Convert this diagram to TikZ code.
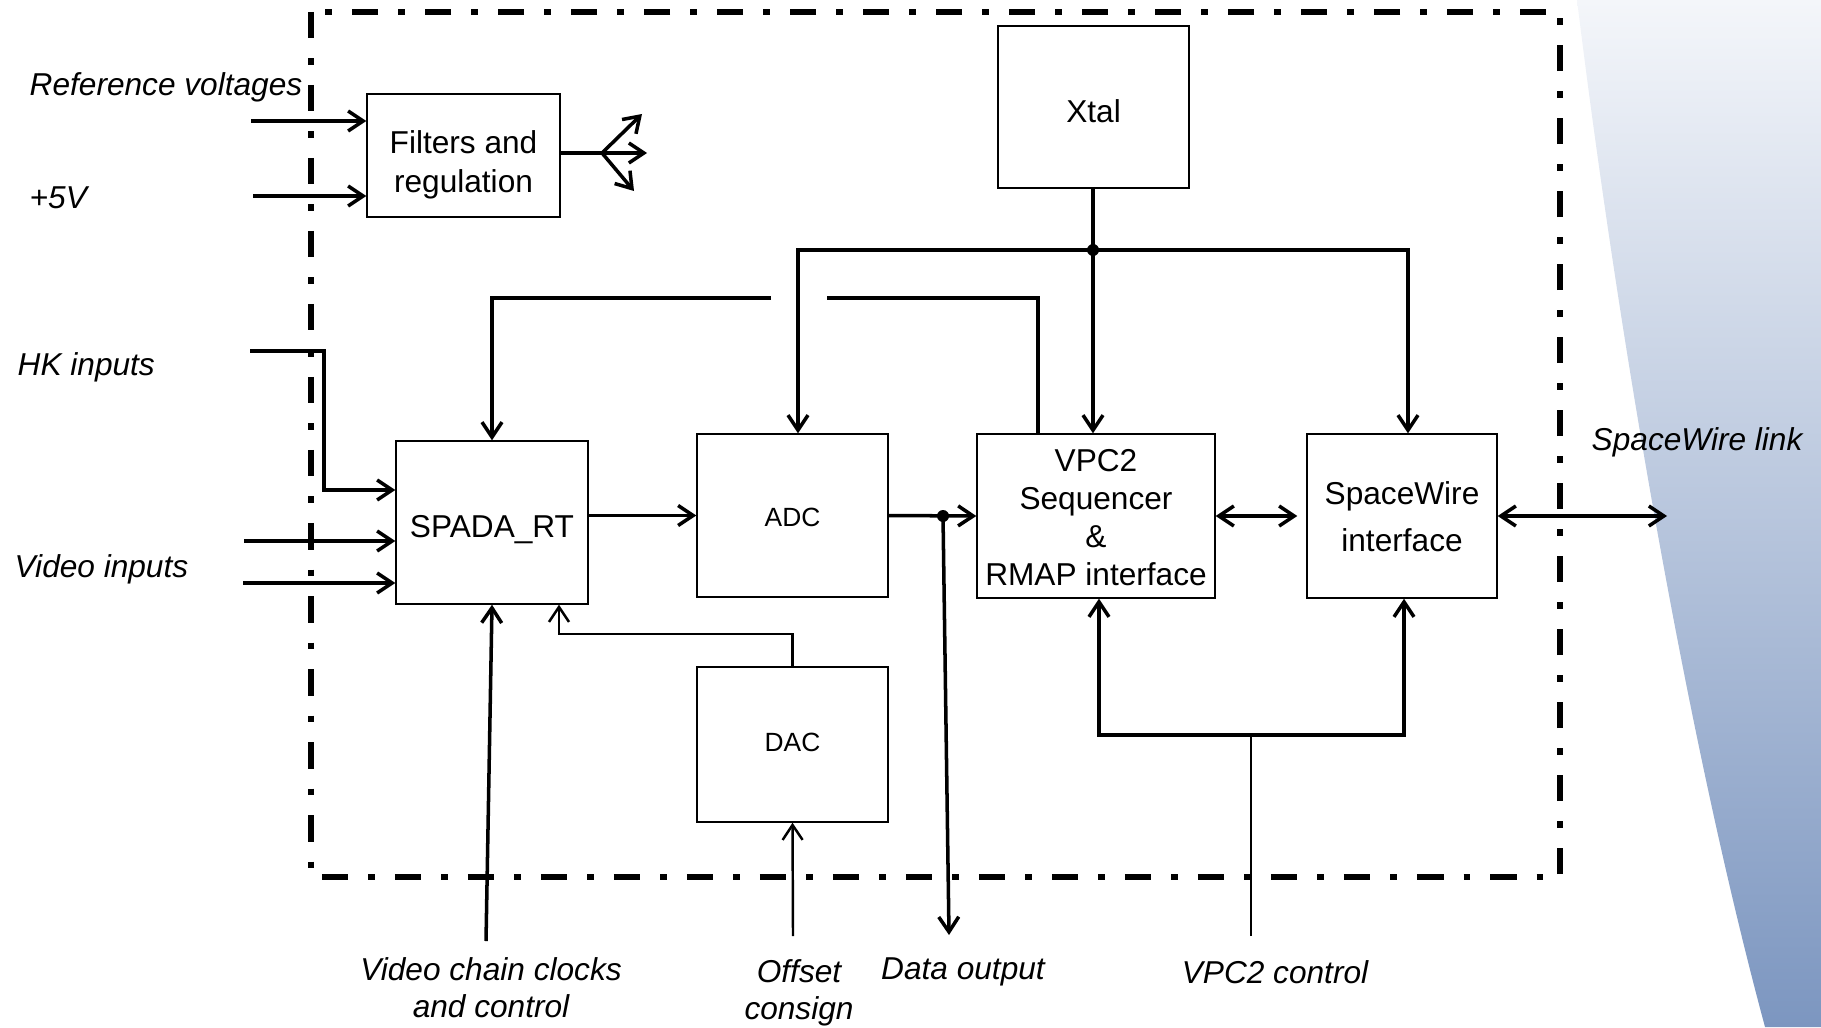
\documentclass[tikz,border=0pt]{standalone}
\usepackage{fontspec}
\setmainfont{Liberation Sans}
\usepackage{tikz}
\usetikzlibrary{arrows.meta}
\definecolor{bltop}{RGB}{244,246,250}
\definecolor{blbot}{RGB}{124,150,192}

\begin{document}
\begin{tikzpicture}[x=0.1mm, y=-0.1mm,
        blk/.style={draw, line width=0.4pt, inner sep=0pt, align=center, font=\fontsize{9}{11}\selectfont},
        lnk/.style={line width=1pt, -{Straight Barb[length=1.5mm, width=2mm]}},
        dlnk/.style={line width=1pt, {Straight Barb[length=1.5mm, width=2mm]}-{Straight Barb[length=1.5mm, width=2mm]}},
        wire/.style={line width=1pt},
        lbl/.style={inner sep=0pt, align=center, anchor=base, font=\fontsize{9}{10.5}\selectfont\itshape},
        frm/.style={line width=1.45pt, dash pattern=on 2.65mm off 2mm on 0.65mm off 2mm}]
                \useasboundingbox (0,0) rectangle (1821,1027);
                \shade[top color=bltop, bottom color=blbot] (1577,0) .. controls (1620,350) and (1690,750) .. (1765,1027) -- (1821,1027) -- (1821,0) -- cycle;
                \draw[frm] (311,12) rectangle (1560,877);
                \node[blk, minimum width=19.3mm, minimum height=12.3mm, text height=7.4mm, text depth=0mm, font=\fontsize{9}{11.2}\selectfont] (filt) at (463.5,155.5) {Filters and\\regulation};
                \node[blk, minimum width=19.1mm, minimum height=16.2mm, text height=3.2mm, text depth=0mm] (xtal) at (1093.5,107) {Xtal};
                \node[blk, minimum width=19.2mm, minimum height=16.3mm, text height=2.9mm, text depth=0mm] (spada) at (492,522.5) {SPADA\_RT};
                \node[blk, minimum width=19.1mm, minimum height=16.3mm, text height=2.1mm, text depth=0mm, font=\fontsize{7.5}{9}\selectfont] (adc) at (792.5,515.5) {ADC};
                \node[blk, minimum width=23.8mm, minimum height=16.4mm, text height=13.8mm, text depth=0mm, font=\fontsize{9}{10.8}\selectfont] (vpc) at (1096,516) {VPC2\\Sequencer\\\&\\RMAP interface};
                \node[blk, minimum width=19mm, minimum height=16.4mm, text height=7mm, text depth=0mm, font=\fontsize{9}{13.1}\selectfont] (spw) at (1402,516) {SpaceWire\\interface};
                \node[blk, minimum width=19.1mm, minimum height=15.5mm, text height=1.3mm, text depth=0mm, font=\fontsize{7.5}{9}\selectfont] (dac) at (792.5,744.5) {DAC};
                \node[lbl, anchor=base west] (refv) at (29,96) {Reference voltages};
                \node[lbl, anchor=base west] (pfive) at (29,209) {+5V};
                \node[lbl, anchor=base west] (hk) at (17,375) {HK inputs};
                \node[lbl, anchor=base west] (vid) at (14,577) {Video inputs};
                \node[lbl, anchor=base west] (swl) at (1591,450) {SpaceWire link};
                \node[lbl] (vcc) at (491,1017) {Video chain clocks\\and control};
                \node[lbl] (offs) at (799,1019) {Offset\\consign};
                \node[lbl] (dout) at (963,979) {Data output};
                \node[lbl] (vctl) at (1275,983) {VPC2 control};
                \coordinate (refin) at (251,121);
                \coordinate (pfin) at (253,196);
                \coordinate (fj) at (602,153);
                \coordinate (fa) at (642,114);
                \coordinate (fb) at (647,153);
                \coordinate (fc) at (634,191);
                \coordinate (hkin) at (250,351);
                \coordinate (hkc) at (324,490);
                \coordinate (vin1) at (244,541);
                \coordinate (vin2) at (243,583);
                \coordinate (dj) at (943,516);
                \coordinate (doutend) at (949,935);
                \coordinate (swout) at (1667,516);
                \coordinate (xj) at (1093,250);
                \coordinate (lpa) at (1038,298);
                \coordinate (lpb) at (827,298);
                \coordinate (lpc) at (771,298);
                \coordinate (dk) at (559,634);
                \coordinate (vccin) at (486,941);
                \coordinate (offin) at (793,936);
                \coordinate (vcin) at (1251,936);
                \coordinate (vcj) at (1251,735);
                \draw[lnk] (refin) -- (refin -| filt.west);
                \draw[lnk] (pfin) -- (pfin -| filt.west);
                \draw[wire] (filt.east |- fj) -- (fj);
                \draw[lnk] (fj) -- (fa);
                \draw[lnk] (fj) -- (fb);
                \draw[lnk] (fj) -- (fc);
                \draw[lnk] (hkin) -| (hkc) -- (hkc -| spada.west);
                \draw[lnk] (vin1) -- (vin1 -| spada.west);
                \draw[lnk] (vin2) -- (vin2 -| spada.west);
                \draw[lnk] (spada.east |- adc.west) -- (adc.west);
                \draw[lnk] (adc.east) -- (vpc.west);
                \fill (dj) circle (0.6mm);
                \draw[lnk] (dj) -- (doutend);
                \draw[dlnk, shorten >=0.9mm] (vpc.east) -- (spw.west);
                \draw[dlnk] (spw.east) -- (swout);
                \draw[lnk] (xtal.south -| xj) -- (xj |- vpc.north);
                \fill (xj) circle (0.6mm);
                \draw[lnk] (xj) -| ([xshift=0.55mm]adc.north);
                \draw[lnk] (xj) -| ([xshift=0.6mm]spw.north);
                \draw[wire] (lpa |- vpc.north) -- (lpa) -- (lpb);
                \draw[lnk] (lpc) -| (spada.north);
                \draw[lnk, line width=0.7pt] (dac.north) |- (dk) -- (dk |- spada.south);
                \draw[lnk] (vccin) -- (spada.south);
                \draw[lnk, line width=0.7pt] (offin) -- (dac.south);
                \draw[wire, line width=0.8pt] (vcin) -- (vcj);
                \draw[lnk] (vcj) -| ([xshift=0.3mm]vpc.south);
                \draw[lnk] (vcj) -| ([xshift=0.2mm]spw.south);
            \end{tikzpicture}
\end{document}
